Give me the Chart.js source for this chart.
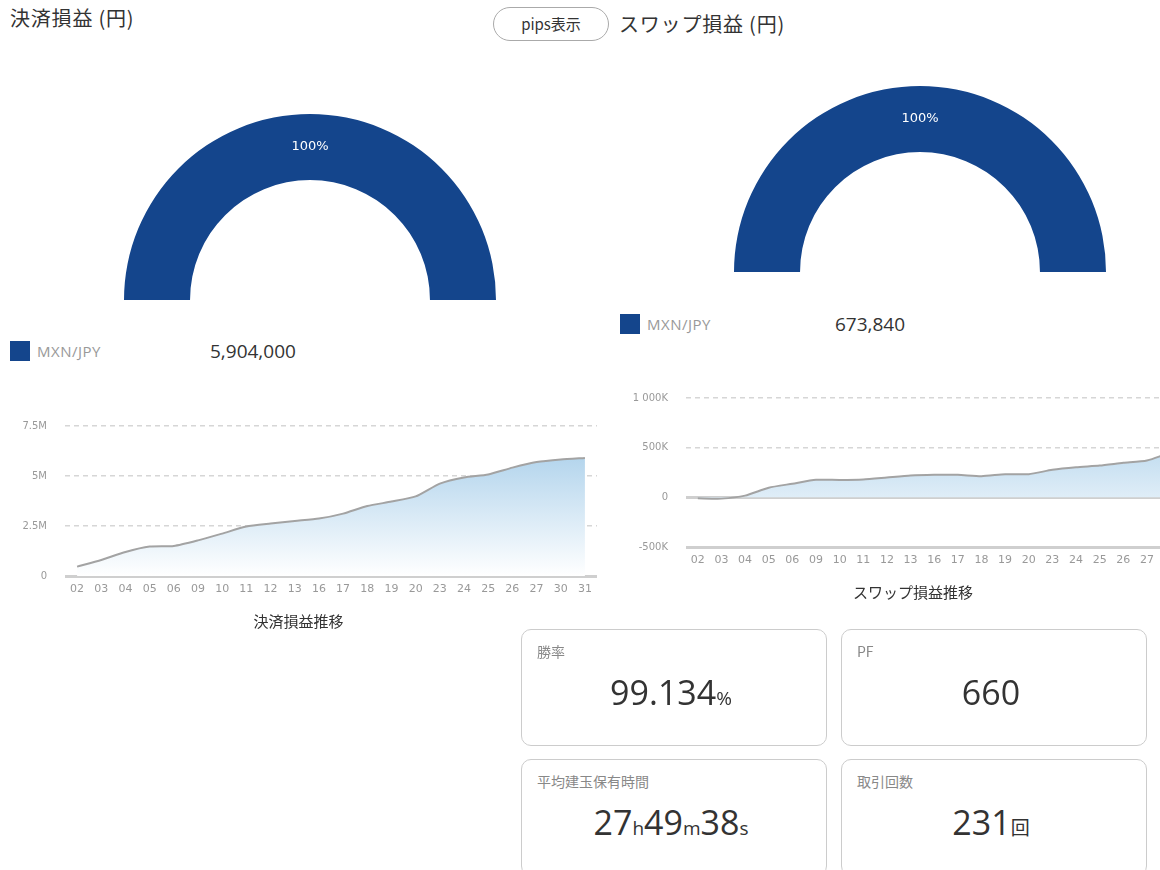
<!DOCTYPE html>
<html lang="ja">
<head>
<meta charset="utf-8">
<title>損益</title>
<script src="https://cdn.jsdelivr.net/npm/chart.js@4.4.1/dist/chart.umd.min.js"></script>
<style>
  html, body { margin: 0; padding: 0; }
  body {
    width: 1160px; height: 870px; overflow: hidden; position: relative; background: #fff;
    font-family: "Open Sans", "Noto Sans CJK JP", sans-serif; color: #333;
  }
  .abs { position: absolute; }
  .head { font-size: 20px; line-height: 24px; letter-spacing: 0.8px; font-family: "Noto Sans CJK JP", sans-serif; }
  .pill {
    left: 493px; top: 7px; width: 114px; height: 32px; border: 1px solid #aaa; border-radius: 17px;
    font-size: 15px; line-height: 32px; text-align: center; font-family: "Noto Sans CJK JP", sans-serif;
  }
  .sw { width: 20px; height: 20px; background: #14458c; }
  .pair { color: #999; font-size: 15px; line-height: 20px; letter-spacing: 0.5px; }
  .amt { font-size: 19px; line-height: 20px; color: #333; }
  .card {
    width: 304px; height: 115px; border: 1px solid #ccc; border-radius: 10px; background: #fff;
  }
  .card .lbl { position: absolute; left: 15px; top: 11px; font-size: 14px; color: #888; font-family: "Noto Sans CJK JP", sans-serif; }
  .card .val { position: absolute; left: -6px; right: 0; top: 42px; text-align: center; font-size: 34px; line-height: 40px; color: #333; }
  .card .val small { font-size: 19px; }
  canvas { position: absolute; }
</style>
</head>
<body>
<div class="abs head" style="left:10px;top:6px;">決済損益 (円)</div>
<div class="abs pill">pips表示</div>
<div class="abs head" style="left:619px;top:12px;">スワップ損益 (円)</div>

<canvas id="gaugeL" width="372" height="186" style="left:124px;top:114px;"></canvas>
<canvas id="gaugeR" width="372" height="186" style="left:734px;top:86px;"></canvas>

<div class="abs sw" style="left:10px;top:341px;"></div>
<div class="abs pair" style="left:37px;top:341px;">MXN/JPY</div>
<div class="abs amt" style="left:210px;top:341px;" id="totL"></div>

<div class="abs sw" style="left:620px;top:314px;"></div>
<div class="abs pair" style="left:647px;top:314px;">MXN/JPY</div>
<div class="abs amt" style="left:835px;top:314px;" id="totR"></div>

<canvas id="lineL" width="610" height="230" style="left:0;top:402px;"></canvas>
<canvas id="lineR" width="600" height="229" style="left:620px;top:374px;"></canvas>

<div class="abs card" style="left:521px;top:629px;">
  <div class="lbl">勝率</div><div class="val">99.134<small>%</small></div>
</div>
<div class="abs card" style="left:841px;top:629px;">
  <div class="lbl">PF</div><div class="val">660</div>
</div>
<div class="abs card" style="left:521px;top:759px;">
  <div class="lbl">平均建玉保有時間</div><div class="val">27<small>h</small>49<small>m</small>38<small>s</small></div>
</div>
<div class="abs card" style="left:841px;top:759px;">
  <div class="lbl">取引回数</div><div class="val">231<small>回</small></div>
</div>

<script>
// 日付ラベル（営業日）
const days = ['02','03','04','05','06','09','10','11','12','13','16','17','18','19','20','23','24','25','26','27','30','31'];

// 決済損益 累計 (円)
const settleCum = [470000, 800000, 1200000, 1470000, 1500000, 1780000, 2120000, 2470000, 2620000, 2750000, 2870000,
  3120000, 3500000, 3720000, 3980000, 4620000, 4930000, 5080000, 5420000, 5700000, 5830000, 5904000];

// スワップ損益 累計 (円)
const swapCum = [-10000, -13000, 17000, 97000, 137000, 177000, 175000, 180000, 200000, 220000, 227000,
  227000, 213000, 233000, 233000, 277000, 303000, 320000, 347000, 370000, 460000, 673840];

const pairs = ['MXN/JPY'];
const settleByPair = [5904000];
const swapByPair = [673840];

const leftTicks = [0, 2500000, 5000000, 7500000];
const rightTicks = [-500000, 0, 500000, 1000000];

const BLUE = '#14458c';
const fmt = n => n.toLocaleString('en-US');
document.getElementById('totL').textContent = fmt(settleByPair[0]);
document.getElementById('totR').textContent = fmt(swapByPair[0]);

const pctLabel = {
  id: 'pctLabel',
  afterDatasetsDraw(chart) {
    const ctx = chart.ctx;
    const meta = chart.getDatasetMeta(0);
    const total = chart.data.datasets[0].data.reduce((a, b) => a + b, 0);
    meta.data.forEach((arc, i) => {
      const p = arc.tooltipPosition();
      const v = chart.data.datasets[0].data[i];
      ctx.save();
      ctx.fillStyle = '#fff';
      ctx.font = '13px "DejaVu Sans"';
      ctx.textAlign = 'center';
      ctx.textBaseline = 'middle';
      ctx.fillText(Math.round(v / total * 100) + '%', p.x, p.y);
      ctx.restore();
    });
  }
};

function gauge(id, values) {
  new Chart(document.getElementById(id), {
    type: 'doughnut',
    data: { labels: pairs, datasets: [{ data: values, backgroundColor: [BLUE], borderWidth: 0 }] },
    options: {
      responsive: false, animation: false,
      rotation: -90, circumference: 180, cutout: '64.5%',
      events: [],
      plugins: { legend: { display: false }, tooltip: { enabled: false } }
    },
    plugins: [pctLabel]
  });
}
gauge('gaugeL', settleByPair);
gauge('gaugeR', swapByPair);

function areaFill(ctx) {
  const a = ctx.chart.chartArea;
  if (!a) return 'rgba(0,0,0,0)';
  const g = ctx.chart.ctx.createLinearGradient(0, a.top, 0, a.bottom);
  g.addColorStop(0, 'rgba(160,202,232,1)');
  g.addColorStop(1, 'rgba(255,255,255,1)');
  return g;
}

function lineChart(id, values, ticks, fmtTick, title, yWidth, padRight) {
  const lo = ticks[0], hi = ticks[ticks.length - 1];
  new Chart(document.getElementById(id), {
    type: 'line',
    data: {
      labels: days,
      datasets: [{
        data: values, borderColor: '#a3a3a3', borderWidth: 2, pointRadius: 0,
        tension: 0.2, fill: 'origin', backgroundColor: areaFill
      }]
    },
    options: {
      responsive: false, animation: false, events: [],
      layout: { padding: { top: 0, right: padRight, left: 0, bottom: 0 } },
      scales: {
        x: {
          offset: true,
          grid: { display: false, drawTicks: false },
          border: { display: false },
          ticks: { color: '#999', font: { family: 'DejaVu Sans', size: 11 }, padding: 7, maxRotation: 0, autoSkip: false },
          afterFit: s => { s.height = 24; }
        },
        y: {
          min: lo, max: hi,
          afterBuildTicks: s => { s.ticks = ticks.map(v => ({ value: v })); },
          grid: {
            drawTicks: false,
            color: c => (c.tick && (c.tick.value === 0 || c.tick.value === lo)) ? '#cfcfcf' : '#d6d6d6',
            lineWidth: c => (c.tick && (c.tick.value === 0 || c.tick.value === lo)) ? 3 : 1.5
          },
          border: {
            display: false,
            dash: c => (c.tick && (c.tick.value === 0 || c.tick.value === lo)) ? [] : [5, 4]
          },
          ticks: { color: '#999', font: { family: 'DejaVu Sans', size: 10 }, padding: 18, callback: v => fmtTick(v) },
          afterFit: s => { s.width = yWidth; }
        }
      },
      plugins: {
        legend: { display: false }, tooltip: { enabled: false },
        title: {
          display: true, position: 'bottom', text: title, color: '#333',
          font: { family: 'Noto Sans CJK JP', size: 15, weight: 'normal' },
          padding: { top: 12, bottom: 2 }
        }
      }
    }
  });
}

lineChart('lineL', settleCum, leftTicks, v => v === 0 ? '0' : (v / 1e6) + 'M', '決済損益推移', 65, 13);
lineChart('lineR', swapCum, rightTicks, v => {
  if (v === 0) return '0';
  const k = v / 1000;
  return String(k).replace(/\B(?=(\d{3})+(?!\d))/g, ' ') + 'K';
}, 'スワップ損益推移', 66, 14);
</script>
</body>
</html>
